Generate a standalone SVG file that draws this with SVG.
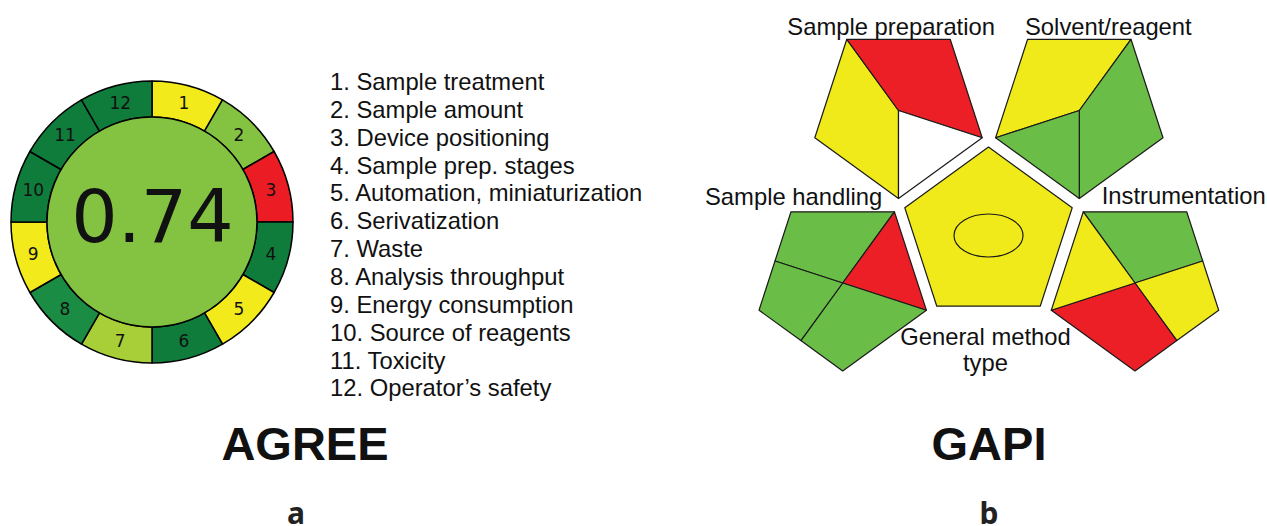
<svg xmlns="http://www.w3.org/2000/svg" width="1267" height="526" viewBox="0 0 1267 526">
<style>
.seg{stroke:#000;stroke-width:1.5;stroke-linejoin:round}
.num{font-family:"DejaVu Sans",sans-serif;font-size:17px;fill:#111;text-anchor:middle}
.lst{font-family:"Liberation Sans",Arial,sans-serif;font-size:23.8px;fill:#111}
.lbl{font-family:"Liberation Sans",Arial,sans-serif;font-size:23.8px;fill:#111}
.ttl{font-family:"Liberation Sans",Arial,sans-serif;font-size:47px;font-weight:bold;fill:#111;text-anchor:middle}
.sub{font-family:"Noto Sans","Open Sans",sans-serif;font-size:30px;font-weight:bold;fill:#222;text-anchor:middle}
.pg{stroke:#1a1a1a;stroke-width:1.2;stroke-linejoin:round}
.y{fill:#f1ea1a}.r{fill:#ec1f26}.g{fill:#6abd46}.w{fill:#fff}
.ay{fill:#f2ea1b}.ar{fill:#ec1c24}.adg{fill:#0f7c3c}.alg{fill:#83c341}.ayg{fill:#a8cf38}.amg{fill:#1a8c44}
</style>
<rect width="1267" height="526" fill="#fff"/>
<g id="agree">
  <g id="agree-segments">
    <path class="seg ay"  d="M152,81 A141,141 0 0 1 222.5,99.9 L204.5,131.1 A105,105 0 0 0 152,117 Z"/>
    <path class="seg alg" d="M222.5,99.9 A141,141 0 0 1 274.1,151.5 L242.9,169.5 A105,105 0 0 0 204.5,131.1 Z"/>
    <path class="seg ar"  d="M274.1,151.5 A141,141 0 0 1 293,222 L257,222 A105,105 0 0 0 242.9,169.5 Z"/>
    <path class="seg adg" d="M293,222 A141,141 0 0 1 274.1,292.5 L242.9,274.5 A105,105 0 0 0 257,222 Z"/>
    <path class="seg ay"  d="M274.1,292.5 A141,141 0 0 1 222.5,344.1 L204.5,312.9 A105,105 0 0 0 242.9,274.5 Z"/>
    <path class="seg adg" d="M222.5,344.1 A141,141 0 0 1 152,363 L152,327 A105,105 0 0 0 204.5,312.9 Z"/>
    <path class="seg ayg" d="M152,363 A141,141 0 0 1 81.5,344.1 L99.5,312.9 A105,105 0 0 0 152,327 Z"/>
    <path class="seg amg" d="M81.5,344.1 A141,141 0 0 1 29.9,292.5 L61.1,274.5 A105,105 0 0 0 99.5,312.9 Z"/>
    <path class="seg ay"  d="M29.9,292.5 A141,141 0 0 1 11,222 L47,222 A105,105 0 0 0 61.1,274.5 Z"/>
    <path class="seg adg" d="M11,222 A141,141 0 0 1 29.9,151.5 L61.1,169.5 A105,105 0 0 0 47,222 Z"/>
    <path class="seg adg" d="M29.9,151.5 A141,141 0 0 1 81.5,99.9 L99.5,131.1 A105,105 0 0 0 61.1,169.5 Z"/>
    <path class="seg adg" d="M81.5,99.9 A141,141 0 0 1 152,81 L152,117 A105,105 0 0 0 99.5,131.1 Z"/>
  </g>
  <circle class="seg alg" cx="152" cy="222" r="105"/>
  <text x="152.5" y="241.7" font-family="DejaVu Sans, sans-serif" font-size="73" fill="#111" text-anchor="middle">0.74</text>
  <g id="agree-numbers">
    <text class="num" x="183.8" y="109.2">1</text>
    <text class="num" x="239" y="141">2</text>
    <text class="num" x="270.8" y="196.2">3</text>
    <text class="num" x="270.8" y="259.8">4</text>
    <text class="num" x="239" y="315">5</text>
    <text class="num" x="183.8" y="346.8">6</text>
    <text class="num" x="120.2" y="346.8">7</text>
    <text class="num" x="65" y="315">8</text>
    <text class="num" x="33.2" y="259.8">9</text>
    <text class="num" x="33.2" y="196.2">10</text>
    <text class="num" x="65" y="141">11</text>
    <text class="num" x="120.2" y="109.2">12</text>
  </g>
</g>
<g id="agree-legend">
  <text class="lst" x="330" y="90">1. Sample treatment</text>
  <text class="lst" x="330" y="117.9">2. Sample amount</text>
  <text class="lst" x="330" y="145.7">3. Device positioning</text>
  <text class="lst" x="330" y="173.6">4. Sample prep. stages</text>
  <text class="lst" x="330" y="201.4">5. Automation, miniaturization</text>
  <text class="lst" x="330" y="229.3">6. Serivatization</text>
  <text class="lst" x="330" y="257.1">7. Waste</text>
  <text class="lst" x="330" y="285">8. Analysis throughput</text>
  <text class="lst" x="330" y="312.8">9. Energy consumption</text>
  <text class="lst" x="330" y="340.7">10. Source of reagents</text>
  <text class="lst" x="330" y="368.5">11. Toxicity</text>
  <text class="lst" x="330" y="396.4">12. Operator’s safety</text>
</g>
<g id="gapi-sample-preparation">
  <polygon class="pg y" points="814.8,137.7 846.8,39.3 898.5,110.5 898.5,198.5"/>
  <polygon class="pg r" points="846.8,39.3 950.2,39.3 982.2,137.7 898.5,110.5"/>
  <polygon class="pg w" points="898.5,110.5 982.2,137.7 898.5,198.5"/>
  <text class="lbl" x="787.3" y="35">Sample preparation</text>
</g>
<g id="gapi-solvent-reagent">
  <polygon class="pg y" points="995.6,137.7 1027.6,39.3 1131,39.3 1079.3,110.5"/>
  <polygon class="pg g" points="1131,39.3 1163,137.7 1079.3,198.5 1079.3,110.5"/>
  <polygon class="pg g" points="995.6,137.7 1079.3,110.5 1079.3,198.5"/>
  <text class="lbl" x="1025" y="35">Solvent/reagent</text>
</g>
<g id="gapi-general-method">
  <polygon class="pg y" points="988.5,147 1072.2,207.8 1040.2,306.2 936.8,306.2 904.8,207.8"/>
  <ellipse cx="988.5" cy="235.5" rx="34.5" ry="21.5" fill="none" stroke="#1a1a1a" stroke-width="1.2"/>
  <text class="lbl" x="985.5" y="345" text-anchor="middle">General method</text>
  <text class="lbl" x="985.5" y="371" text-anchor="middle">type</text>
</g>
<g id="gapi-sample-handling">
  <polygon class="pg g" points="791,211.8 894.4,211.8 842.7,283 775,261"/>
  <polygon class="pg r" points="894.4,211.8 926.4,310.2 842.7,283"/>
  <polygon class="pg g" points="842.7,283 926.4,310.2 842.7,371 800.85,340.6"/>
  <polygon class="pg g" points="842.7,283 800.85,340.6 759,310.2 775,261"/>
  <text class="lbl" x="705" y="205">Sample handling</text>
</g>
<g id="gapi-instrumentation">
  <polygon class="pg g" points="1083.3,211.8 1186.7,211.8 1202.7,261 1135,283"/>
  <polygon class="pg y" points="1135,283 1202.7,261 1218.7,310.2 1176.85,340.6"/>
  <polygon class="pg r" points="1135,283 1176.85,340.6 1135,371 1051.3,310.2"/>
  <polygon class="pg y" points="1083.3,211.8 1135,283 1051.3,310.2"/>
  <text class="lbl" x="1101.7" y="204.3">Instrumentation</text>
</g>
<g id="titles">
  <text class="ttl" x="305" y="459.5">AGREE</text>
  <text class="ttl" x="989" y="459.5">GAPI</text>
  <text class="sub" x="296" y="524">a</text>
  <text class="sub" x="989" y="524">b</text>
</g>
</svg>
